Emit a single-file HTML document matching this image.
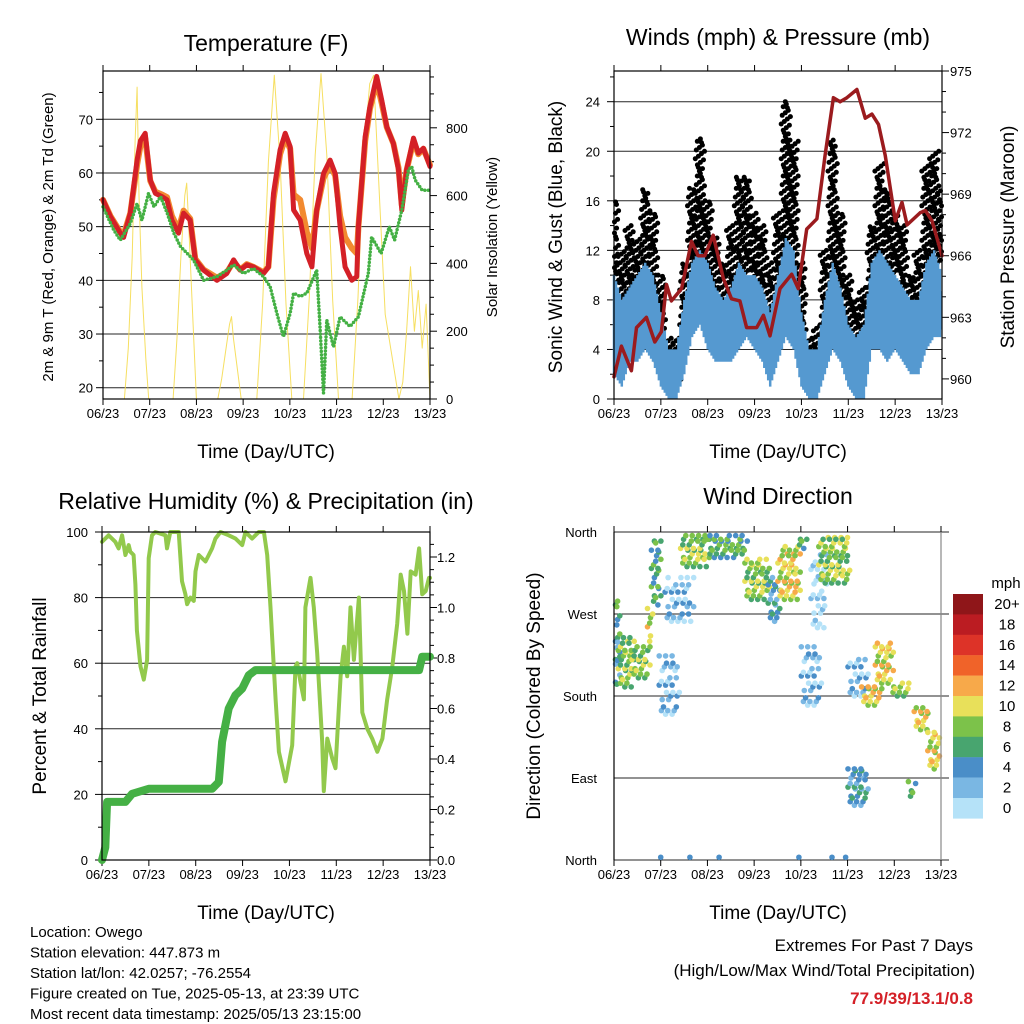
<!DOCTYPE html>
<html><head><meta charset="utf-8"><style>
html,body{margin:0;padding:0;background:#fff;}
svg{display:block;font-family:"Liberation Sans",Arial,sans-serif;}
</style></head><body>
<svg id="c" width="1024" height="1024" viewBox="0 0 1024 1024" xmlns="http://www.w3.org/2000/svg"></svg>
<script>
// ---------- DATA ----------
const xTickLabels = ["06/23","07/23","08/23","09/23","10/23","11/23","12/23","13/23"];
const tHours = [0,3.8,8.9,10.6,14,17.5,19.2,21.7,24.3,26.9,30.3,32.9,35.4,38.8,41.4,44.8,47.4,51.7,58.5,63.6,67.1,70.5,73.9,77.3,82.5,85,87.6,91,93.6,96.2,97.9,101.3,104.7,107.3,109.8,113.3,116.7,119.3,121.8,124.4,127.8,130.4,131.2,134.7,137.2,140.6,143.2,145.8,149.2,151.8,153.5,156,159.5,162,164.6,168];
const temp2m = [55,51.9,48.8,48,52.5,62.4,66,67.4,58.7,56.2,55.6,55,51.2,48.8,52.5,51.2,43.8,41.9,40,41.3,43.8,41.9,42.9,42.5,41.3,42.5,56.2,64.3,67.4,64.9,53.1,51.2,45,42.5,53.1,59.9,62.4,59.9,50,42.5,40,40.7,50,66.8,72.4,78,73.6,68.6,65.5,60.6,53.1,60.6,66.5,63.7,64.6,61.2];
const temp9m = [55,52,49,48.5,52.5,61.5,65,66.5,58.5,56.5,56,55.5,52,49.5,53,51.5,44,42,40.5,41.5,43.5,42,43,42.5,41.5,42.5,55,63.5,66.5,64.5,56,55,49,46,53,59,61.5,59.5,52,48,46,45,50,66,72,77,73,68.5,65.5,61,54,60.5,66,63.5,64.5,61.5];
const tdHours = [0,5.5,8.9,14,17.5,20,23.4,26.2,29.6,33,36.4,39.8,46.5,51.7,58.5,63.6,67.1,72.2,77.3,82.5,85.9,89.3,92.7,96.2,97.9,101.3,104.7,109.8,111.5,113.3,115,118.4,121.8,126.9,131.2,136.3,138,142.9,147.1,149.8,153.5,156.9,158.6,160.4,164,168];
const tdew = [53.7,49.4,47.5,50.6,54.3,51.2,56.2,53.7,55.6,52.5,48.8,46.3,43.8,40,40.7,41.9,42.9,41.3,42.2,40.7,38.8,33.9,29.5,33.9,37.6,37,37.6,41.9,31.4,19,32.6,27.6,33.2,31.4,33.2,41.3,48.1,45,50,47.5,53.1,60.6,61.2,58.7,56.8,56.8];
const solarHours = [0,11,13,15,16.5,17.5,18.5,20,22,23.5,36,38,40,42,43,44,46,48,59,61,63,65,66,67,69,71,79,82,85,88,91,94,97,103,106,109,112,115,118,121,128,131,134,137,139,142,145,152,154,156,158,160,162,164,166,168];
const solar = [0,0,150,420,760,920,600,330,120,0,0,180,420,600,637,520,260,0,0,60,140,220,243,180,90,0,0,280,700,955,700,280,0,0,300,720,960,720,290,0,0,300,720,930,955,600,250,0,50,200,390,200,320,150,280,0];
const windHours = [0,4,8,12,16,20,24,28,32,36,40,44,48,52,56,60,64,68,72,76,80,84,88,92,96,100,104,108,112,116,120,124,128,132,136,140,144,148,152,156,160,164,168];
const gustLo = [9,8,8,9,9,8,3,1,1,6,10,11,9,7,6,8,10,10,9,8,5,9,11,9,5,1,2,6,10,8,4,2,3,9,10,9,10,8,5,6,10,11,11];
const gustHi = [16,12,14,13,17,15,10,5,5,11,17,21,16,13,11,14,18,18,15,14,11,15,24,21,11,5,6,12,21,15,10,8,9,14,19,17,15,14,10,12,19,20,17];
const windLo = [2,1,3,3,4,3,1,0,0,2,5,6,4,3,3,3,4,5,4,3,1,3,5,4,1,0,0,2,4,3,1,0,0,4,4,3,4,3,2,2,4,5,5];
const windHi = [10,8,9,10,11,10,7,4,4,8,11,12,11,9,8,9,11,10,10,9,7,10,13,12,7,4,4,8,11,9,6,5,6,11,12,11,10,9,8,8,11,12,10];
const presHours = [0,3.8,8.9,11.5,16.6,20.9,24.3,26.9,29.4,34.6,39.7,43.1,46.5,50.8,56,60.2,64.5,67.9,73.1,76.5,79.9,85,91,94.4,98.7,103.9,108.1,112.4,115.8,119.3,124.4,128.7,132.1,135.5,138.9,144.1,147.5,150.1,156.9,159.5,162.9,168];
const pressure = [960.1,961.6,960.4,962.5,963,961.8,962.3,964.6,963.8,964.4,966.7,966,966,967,964.9,963.9,963.8,962.5,962.5,963.1,962.1,964.4,965.1,964.4,967.3,967.8,970.9,973.7,973.5,973.7,974.1,972.7,972.9,972.4,970.9,967.7,968.6,967.5,968.1,968.2,967.7,966];
const rhHours = [0,3.4,6.8,8.5,10.3,12,13.7,14.5,16.2,17.1,17.9,19.7,21.4,23.1,23.9,25.6,27.3,32.5,33.3,35,39.3,41,42.7,43.6,45.3,47,47.9,49.6,53,54.7,56.4,58.1,60.7,64.9,68.4,71.8,73.5,76.9,80.3,82.9,84.6,86.3,88.9,90.6,94,97.4,99.1,100,101.7,103.4,104.2,106.8,108.5,110.2,112.8,113.6,115.4,117.9,119.6,122.2,123.9,125.6,127.3,129,131.6,133.3,135.9,138.4,141,143.6,146.1,148.7,151.2,153,154.7,156.4,158.1,160.6,162.4,164,165.8,167.5,168];
const rh = [97,99,97,95,99,93,96,94,93,84,70,59,55,61,92,99,100,99,95,100,100,85,81,78,80,79,88,93,91,93,95,98,100,99,98,96,100,98,100,100,93,77,49,33,24,35,59,60,54,49,77,86,77,63,36,21,37,31,28,56,65,56,77,61,80,45,40,37,33,37,49,59,72,87,82,69,88,87,95,81,82,86,86];
const precipHours = [0,1.7,2.6,5.1,12,15.4,23.9,56.4,59.8,61.5,64.9,68.4,71.8,75.2,78.6,162.4,164,168];
const precip = [0,0.05,0.23,0.23,0.23,0.262,0.282,0.282,0.309,0.468,0.6,0.653,0.679,0.732,0.752,0.752,0.805,0.805];
const dirStart = [0,0,3,10,18,20,24,27,35,49,68,80,85,95,97,102,106,121,121,128,135,143,152,155,162];
const dirEnd   = [3,3,10,18,20,24,33,41,49,68,80,85,95,99,106,109,121,130,130,137,143,152,155,162,168];
const dirLo    = [210,185,190,200,236,280,160,262,322,332,286,262,286,342,170,255,304,180,60,170,194,180,66,143,100];
const dirHi    = [284,240,245,236,276,352,226,310,357,358,330,310,344,357,234,335,357,220,102,190,238,196,88,168,140];
const dirSpeed = [6,4,7,7,10,6,2,2,7,5,8,4,10,6,2,0,7,2,4,10,9,8,5,9,9];
const northHours = [24,39,54,95,112,119];
const speedBins = ["0","2","4","6","8","10","12","14","16","18","20+"];
const binColors = ["#b5e2f8","#7ab7e3","#4a8ec8","#48a56f","#7cc24a","#e8e05a","#f7a94a","#f06329","#dd3328","#bb1c22","#8f1619"];

// ---------- HELPERS ----------
const NS="http://www.w3.org/2000/svg";
const svg=document.getElementById('c');
function mk(tag,attrs,parent){const e=document.createElementNS(NS,tag);for(const k in attrs)e.setAttribute(k,attrs[k]);(parent||svg).appendChild(e);return e;}
function txt(s,x,y,size,anchor,parent,extra){const e=mk('text',Object.assign({x:x,y:y,'font-size':size,'text-anchor':anchor||'middle',fill:'#000'},extra||{}),parent);e.textContent=s;return e;}
function lin(a,b,c,d){return v=>c+(v-a)*(d-c)/(b-a);}

function xAxis(g,L,R,B,T){
  const xs=lin(0,168,L,R);
  for(let h=0;h<=168;h+=24){
    const t=mk('line',{x1:xs(h),x2:xs(h),y1:B,y2:B+6,stroke:'#000','stroke-width':1},g);
    
    const t2=mk('line',{x1:xs(h),x2:xs(h),y1:T,y2:T-6,stroke:'#000','stroke-width':1},g);
    }
  xTickLabels.forEach((s,i)=>{const e=txt(s,xs(i*24),B+19,13,'middle',g);
    });
  return xs;
}
function frame(g,L,R,T,B){const r=mk('rect',{x:L,y:T,width:R-L,height:B-T,fill:'none',stroke:'#000','stroke-width':1.2},g);
  }
function grid(g,L,R,y){const l=mk('line',{x1:L,x2:R,y1:y,y2:y,stroke:'#000','stroke-width':1,opacity:0.85},g);
  }
function poly(g,xs,ys,hs,vs,style){let d='';hs.forEach((h,i)=>{d+=(i?'L':'M')+xs(h).toFixed(1)+','+ys(vs[i]).toFixed(1);});
  return mk('path',Object.assign({d:d,fill:'none','stroke-linejoin':'round','stroke-linecap':'round'},style),g);}
function vtitle(s,x,y,size,g){return txt(s,x,y,size,'middle',g,{transform:'rotate(-90 '+x+' '+y+')'});}

// ---------- PANEL 1 ----------
(function(){
  const g=mk('g',{});
  const L=103,R=430,T=71,B=399;
  const ys=lin(20,70,387.7,119.3), ys2=lin(0,800,399,127.8);
  const xs=xAxis(g,L,R,B,T);
  [20,30,40,50,60,70].forEach(v=>grid(g,L,R,ys(v)));
  for(let v=20;v<=75;v+=5){const t=mk('line',{x1:L,x2:L-(v%10?4:7),y1:ys(v),y2:ys(v),stroke:'#000'},g);}
  [20,30,40,50,60,70].forEach(v=>{const e=txt(String(v),93,ys(v)+5,13,'end',g);});
  for(let v=0;v<=950;v+=50){const t=mk('line',{x1:R,x2:R+(v%200?4:7),y1:ys2(v),y2:ys2(v),stroke:'#000'},g);}
  [0,200,400,600,800].forEach(v=>{const e=txt(String(v),446,ys2(v)+5,13,'start',g);});
  const s=poly(g,xs,ys2,solarHours,solar,{stroke:'#f5dc50','stroke-width':1,opacity:0.9});
  const o=poly(g,xs,ys,tHours,temp9m,{stroke:'#f28a30','stroke-width':6});
  const r=poly(g,xs,ys,tHours,temp2m,{stroke:'#d42027','stroke-width':5});
  const d=poly(g,xs,ys,tdHours,tdew,{stroke:'#44b044','stroke-width':3.5,'stroke-dasharray':'0 3.5'});
  frame(g,L,R,T,B);
  const t=txt('Temperature (F)',266,51,23,'middle',g);
  const a=txt('Time (Day/UTC)',266,458,19,'middle',g);
  const y1=vtitle('2m & 9m T (Red, Orange) & 2m Td (Green)',53,237,15,g);
  const y2=vtitle('Solar Insolation (Yellow)',497,237,15,g);
})();

// ---------- PANEL 2 ----------
(function(){
  const g=mk('g',{});
  const L=614,R=942,T=71,B=399;
  const ys=lin(0,24,399,101.7), ys2=lin(960,975,378.9,71);
  const xs=xAxis(g,L,R,B,T);
  [0,4,8,12,16,20,24].forEach(v=>grid(g,L,R,ys(v)));
  for(let v=0;v<=26;v+=2){const t=mk('line',{x1:L,x2:L-(v%4?4:7),y1:ys(v),y2:ys(v),stroke:'#000'},g);}
  [0,4,8,12,16,20,24].forEach(v=>{const e=txt(String(v),600,ys(v)+5,13,'end',g);});
  for(let v=960;v<=975;v+=1){const t=mk('line',{x1:R,x2:R+(v%3?4:7),y1:ys2(v),y2:ys2(v),stroke:'#000'},g);}
  [960,963,966,969,972,975].forEach(v=>{const e=txt(String(v),950,ys2(v)+5,13,'start',g);});
  const dx=xs(4)-xs(0);
  windHours.forEach((h,i)=>{
    const cols=[-0.4,-0.13,0.13,0.4];
    cols.forEach((c,ci)=>{
      let k=0;
      for(let v=gustLo[i]+ci*0.2;v<=gustHi[i];v+=0.7,k++){
        const cx=xs(h)+c*dx+((k*5+ci)%4-1.5)*1.0;
        if(cx<L||cx>R)continue;
        const p=mk('circle',{cx:cx.toFixed(1),cy:ys(v).toFixed(1),r:2.5,fill:'#000'},g);
        
      }});
  });
  let d='';
  for(let i=0;i<windHours.length-1;i++){
    for(let f=0;f<1;f+=0.125){
      const h=windHours[i]+f*(windHours[i+1]-windHours[i]);
      const lo=windLo[i]+f*(windLo[i+1]-windLo[i]);
      const hi=windHi[i]+f*(windHi[i+1]-windHi[i]);
      const j=(Math.round(f*8)%2)?0.85:1;
      d+='M'+xs(h).toFixed(1)+','+ys(lo+(1-j)*4).toFixed(1)+'L'+xs(h).toFixed(1)+','+ys(hi*j).toFixed(1);
    }}
  const band=mk('path',{d:d,fill:'none',stroke:'#5599d0','stroke-width':2.5},g);
  
  const p=poly(g,xs,ys2,presHours,pressure,{stroke:'#9b1b1e','stroke-width':3.5});
  frame(g,L,R,T,B);
  const t=txt('Winds (mph) & Pressure (mb)',778,45,23,'middle',g);
  const a=txt('Time (Day/UTC)',778,458,19,'middle',g);
  const y1=vtitle('Sonic Wind & Gust (Blue, Black)',562,237,19,g);
  const y2=vtitle('Station Pressure (Maroon)',1014,237,19,g);
})();

// ---------- PANEL 3 ----------
(function(){
  const g=mk('g',{});
  const L=102,R=430,T=532,B=860;
  const ys=lin(0,100,860,532), ys2=lin(0,1.2,860,557);
  const xs=xAxis(g,L,R,B,T);
  [20,40,60,80].forEach(v=>grid(g,L,R,ys(v)));
  for(let v=0;v<=100;v+=10){const t=mk('line',{x1:L,x2:L-(v%20?4:7),y1:ys(v),y2:ys(v),stroke:'#000'},g);}
  [0,20,40,60,80,100].forEach(v=>{const e=txt(String(v),88,ys(v)+5,13,'end',g);});
  for(let k=0;k<=25;k++){const v=k*0.05;const t=mk('line',{x1:R,x2:R+(k%4?4:7),y1:ys2(v),y2:ys2(v),stroke:'#000'},g);}
  [0,0.2,0.4,0.6,0.8,1.0,1.2].forEach(v=>{const e=txt(v.toFixed(1),437,ys2(v)+5,13,'start',g);});
  const r=poly(g,xs,ys,rhHours,rh,{stroke:'#92c94c','stroke-width':4});
  const p=poly(g,xs,ys2,precipHours,precip,{stroke:'#45b045','stroke-width':8});
  frame(g,L,R,T,B);
  const t=txt('Relative Humidity (%) & Precipitation (in)',266,509,23,'middle',g);
  const a=txt('Time (Day/UTC)',266,919,19,'middle',g);
  const y1=vtitle('Percent & Total Rainfall',46,696,19,g);
})();

// ---------- PANEL 4 ----------
(function(){
  const g=mk('g',{});
  const L=614,R=941,T=532,B=860;
  const ys=lin(0,360,860,532);
  const xs=xAxis(g,L,R,B,T);
  const dirLabels=['North','East','South','West','North'];
  [0,90,180,270,360].forEach((v,i)=>{grid(g,L,R+8,ys(v));
    const e=txt(dirLabels[i],597,ys(v)+5,13,'end',g);});
  function col(s){let k=Math.max(0,Math.min(10,Math.round(s/2)));return binColors[k];}
  dirStart.forEach((h0,j)=>{
    let c=0;
    const sparse=dirSpeed[j]<=2;
    for(let h=h0;h<=dirEnd[j];h+=1.1,c++){
      let r=0;
      for(let v=dirLo[j]+(c%3)*4;v<=dirHi[j];v+=(sparse?16:10),r++){
        if((c*7+r*3)%5===0)continue;
        const sp=dirSpeed[j]+(((c+r)%3)-1)*2;
        const cx=xs(h)+((r%2)?1.5:-1.5);if(cx<L+1||cx>R-1)continue;
        const p=mk('circle',{cx:cx.toFixed(1),cy:ys(v).toFixed(1),r:2.8,fill:col(Math.max(0,sp))},g);
        
      }}
  });
  northHours.forEach(h=>{const p=mk('circle',{cx:xs(h),cy:ys(3),r:2.8,fill:binColors[2]},g);
    });
  const fr=mk('line',{x1:L,x2:L,y1:T,y2:B,stroke:'#000','stroke-width':1.2},g);
  const fr2=mk('line',{x1:R,x2:R,y1:T,y2:B,stroke:'#888','stroke-width':1.2},g);
  const lg=mk('g',{},g);
  const mph=txt('mph',1006,588,15,'middle',lg);
  for(let k=10;k>=0;k--){const yy=594+(10-k)*20.4;
    const b=mk('rect',{x:953,y:yy,width:30,height:20.6,fill:binColors[k]},lg);
    const l=txt(speedBins[k],1007,yy+15,15,'middle',lg);}
  const t=txt('Wind Direction',778,504,23,'middle',g);
  const a=txt('Time (Day/UTC)',778,919,19,'middle',g);
  const y1=vtitle('Direction (Colored By Speed)',540,696,19,g);
})();

// ---------- FOOTER ----------
const info=['Location: Owego','Station elevation: 447.873 m','Station lat/lon: 42.0257; -76.2554','Figure created on Tue, 2025-05-13, at 23:39 UTC','Most recent data timestamp: 2025/05/13 23:15:00'];
info.forEach((s,i)=>{const e=txt(s,30,937+i*20.5,15,'start');});
const e1=txt('Extremes For Past 7 Days',973,951,17,'end');
const e2=txt('(High/Low/Max Wind/Total Precipitation)',975,976,17,'end');
const e3=txt('77.9/39/13.1/0.8',973,1004,17,'end',null,{fill:'#d42027','font-weight':'bold'});
</script>
</body></html>
